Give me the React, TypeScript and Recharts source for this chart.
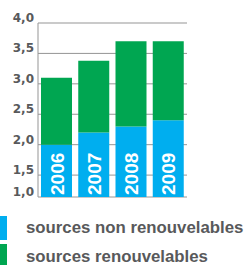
import { Bar, BarChart, CartesianGrid, LabelList, Legend, XAxis, YAxis } from 'recharts';

const years = ['2006', '2007', '2008', '2009'];
const nonRenewable = [2.0, 2.2, 2.3, 2.4];
const renewable = [1.1, 1.18, 1.4, 1.3];
// the printed axis floor sits a bit above 1.0; its label still reads "1,0"
const yTicks = [1.14, 1.5, 2.0, 2.5, 3.0, 3.5, 4.0];
const yTickLabels = ['1,0', '1,5', '2,0', '2,5', '3,0', '3,5', '4,0'];
const seriesNames = ['sources non renouvelables', 'sources renouvelables'];

const BLUE = '#00aeef';
const GREEN = '#00a651';
const GRAY = '#58595b';
const GRID = '#959595';

const W = 245;
const H = 265;
const PLOT_BOTTOM = 197;
const LEGEND_H = 52;

const data = years.map((year, i) => ({
  year,
  nonRenewable: nonRenewable[i],
  renewable: renewable[i],
}));

const YTick = ({ x, y, payload, index }: any) => (
  <text
    x={x}
    y={y - 1}
    textAnchor='end'
    fill={GRAY}
    fontFamily='DejaVu Sans'
    fontWeight='bold'
    fontSize={12}
  >
    {yTickLabels[index] ?? String(payload.value)}
  </text>
);

const YearLabel = (props: any) => {
  const { x, width, value } = props;
  const tx = x + width / 2 + 7;
  const ty = PLOT_BOTTOM - 2;
  return (
    <text
      x={tx}
      y={ty}
      transform={`rotate(-90, ${tx}, ${ty})`}
      textAnchor='start'
      fill='#ffffff'
      fontFamily='Liberation Sans'
      fontWeight='bold'
      fontSize={19}
    >
      {value}
    </text>
  );
};

const LegendContent = () => (
  <div style={{ height: LEGEND_H, width: W, position: 'relative' }}>
    {seriesNames.map((name, i) => (
      <div
        key={name}
        style={{
          position: 'absolute',
          left: 0,
          top: 4 + i * 28,
          height: 24,
          display: 'flex',
          alignItems: 'center',
        }}
      >
        <div style={{ width: 7, height: 24, background: i === 0 ? BLUE : GREEN }} />
        <span
          style={{
            marginLeft: 19,
            fontFamily: 'Liberation Sans',
            fontWeight: 'bold',
            fontSize: 16.8,
            lineHeight: '24px',
            color: GRAY,
            whiteSpace: 'nowrap',
            position: 'relative',
            top: i === 0 ? 0 : 1,
          }}
        >
          {name}
        </span>
      </div>
    ))}
  </div>
);

export default function App() {
  return (
    <div style={{ width: W, height: H, overflow: 'hidden', position: 'relative' }}>
      <style>{'body{margin:0}'}</style>
      <BarChart
        width={W}
        height={H}
        data={data}
        barSize={31}
        margin={{ top: 23, right: 58, left: 0, bottom: H - PLOT_BOTTOM - LEGEND_H }}
      >
        <CartesianGrid vertical={false} stroke={GRID} />
        <XAxis dataKey='year' hide />
        <YAxis
          width={38}
          domain={[yTicks[0], 4]}
          allowDataOverflow
          ticks={yTicks}
          interval={0}
          tickSize={0}
          tickMargin={4}
          tickLine={false}
          axisLine={{ stroke: GRID }}
          tick={<YTick />}
        />
        <Legend
          verticalAlign='bottom'
          content={<LegendContent />}
          wrapperStyle={{ left: 0, top: 212, bottom: 'auto', width: W, height: LEGEND_H }}
        />
        <Bar dataKey='nonRenewable' stackId='a' fill={BLUE} isAnimationActive={false}>
          <LabelList dataKey='year' content={<YearLabel />} />
        </Bar>
        <Bar dataKey='renewable' stackId='a' fill={GREEN} isAnimationActive={false} />
      </BarChart>
    </div>
  );
}
